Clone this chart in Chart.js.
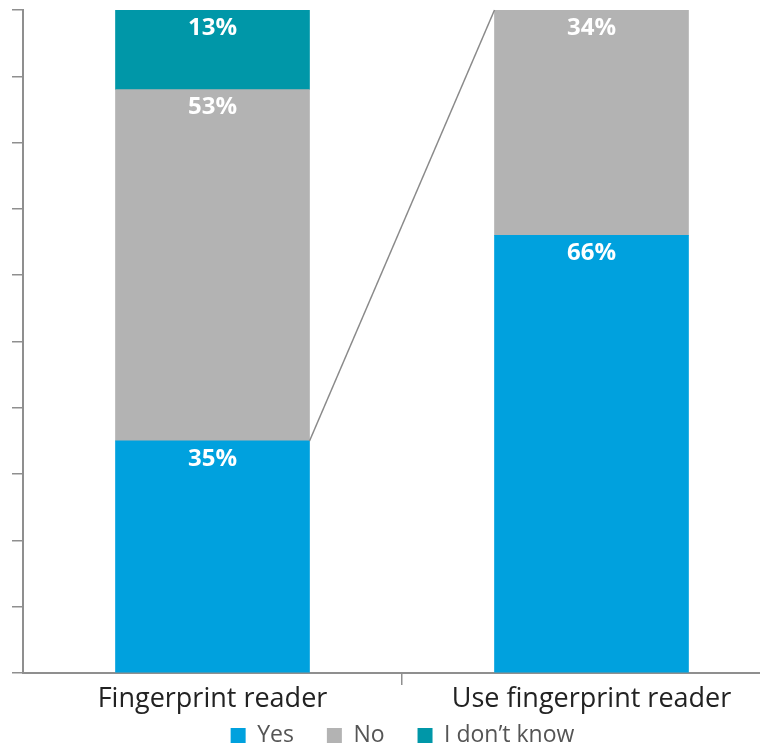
<!DOCTYPE html>
<html>
<head>
<meta charset="utf-8">
<script src="https://cdn.jsdelivr.net/npm/chart.js@4.4.1/dist/chart.umd.min.js"></script>
<style>
  html, body { margin: 0; padding: 0; background: #fff; overflow: hidden; }
  #wrap { width: 760px; height: 745px; overflow: hidden; position: relative; }
  #chart { position: absolute; left: 0; top: 0; }
</style>
</head>
<body>
<div id="wrap"><canvas id="chart" width="781" height="745"></canvas></div>
<script>
const categories = ["Fingerprint reader", "Use fingerprint reader"];
const seriesNames = ["Yes", "No", "I don\u2019t know"];
const yesValues = [35, 66];
const noValues = [53, 34];
const dontKnowValues = [13, null];
const seriesColors = ["#00A1DE", "#B3B3B3", "#0097A8"];

const AXIS_GRAY = "#8f8f8f";

// white % labels just under the top of each segment
const segmentLabels = {
    id: "segmentLabels",
    afterDatasetsDraw(chart) {
        let ctx = chart.ctx;
        let area = chart.chartArea;
        ctx.save();
        ctx.fillStyle = "#ffffff";
        ctx.font = "bold 24px 'Open Sans'";
        ctx.textAlign = "center";
        ctx.textBaseline = "middle";
        chart.data.datasets.forEach((ds, i) => {
            let meta = chart.getDatasetMeta(i);
            meta.data.forEach((bar, j) => {
                let v = ds.data[j];
                if (v === null || v === undefined) return;
                let top = Math.max(bar.y, area.top);
                ctx.fillText(v + "%", bar.x, top + 18);
            });
        });
        ctx.restore();
    }
};

// connector from top of left "Yes" to top of right bar
const connector = {
    id: "connector",
    afterDatasetsDraw(chart) {
        let ctx = chart.ctx;
        let yesBar = chart.getDatasetMeta(0).data[0];
        let noBar = chart.getDatasetMeta(1).data[1];
        ctx.save();
        ctx.strokeStyle = "#8a8a8a";
        ctx.lineWidth = 1.5;
        ctx.beginPath();
        ctx.moveTo(yesBar.x + yesBar.width / 2, yesBar.y);
        ctx.lineTo(noBar.x - noBar.width / 2, noBar.y);
        ctx.stroke();
        ctx.restore();
    }
};

// place legend like the original (a bit right of canvas centre, near the bottom)
const legendShift = {
    id: "legendShift",
    afterLayout(chart) {
        let lg = chart.legend;
        if (!lg) return;
        let h = lg.bottom - lg.top;
        lg.left += 6;
        lg.right += 6;
        lg.top = chart.chartArea.bottom + 18;
        lg.bottom = lg.top + h;
    }
};

new Chart(document.getElementById("chart").getContext("2d"), {
    type: "bar",
    data: {
        labels: categories,
        datasets: [
            { label: seriesNames[0], data: yesValues, backgroundColor: seriesColors[0] },
            { label: seriesNames[1], data: noValues, backgroundColor: seriesColors[1] },
            { label: seriesNames[2], data: dontKnowValues, backgroundColor: seriesColors[2] }
        ]
    },
    options: {
        responsive: false,
        animation: false,
        barThickness: 194,
        layout: { padding: { top: 10, left: 12, right: 0, bottom: -39 } },
        scales: {
            x: {
                stacked: true,
                border: { color: AXIS_GRAY, width: 2 },
                grid: {
                    drawOnChartArea: false,
                    drawTicks: true,
                    tickLength: 12,
                    lineWidth: 1.5,
                    color: ctx => ctx.index === 1 ? AXIS_GRAY : "rgba(0,0,0,0)"
                },
                ticks: {
                    color: "#222",
                    padding: -2,
                    font: { family: "'Open Sans'", size: 27 }
                },
                afterFit(scale) { scale.height = 45; }
            },
            y: {
                stacked: true,
                min: 0,
                max: 100,
                border: { color: AXIS_GRAY, width: 2 },
                grid: {
                    drawOnChartArea: false,
                    drawTicks: true,
                    tickLength: 11,
                    lineWidth: 1.5,
                    color: AXIS_GRAY
                },
                ticks: { display: false, stepSize: 10 }
            }
        },
        plugins: {
            tooltip: { enabled: false },
            legend: {
                position: "bottom",
                labels: {
                    boxWidth: 15,
                    boxHeight: 15,
                    padding: 33,
                    color: "#555",
                    font: { family: "'Open Sans'", size: 23 }
                }
            }
        }
    },
    plugins: [segmentLabels, connector, legendShift]
});
</script>
</body>
</html>
